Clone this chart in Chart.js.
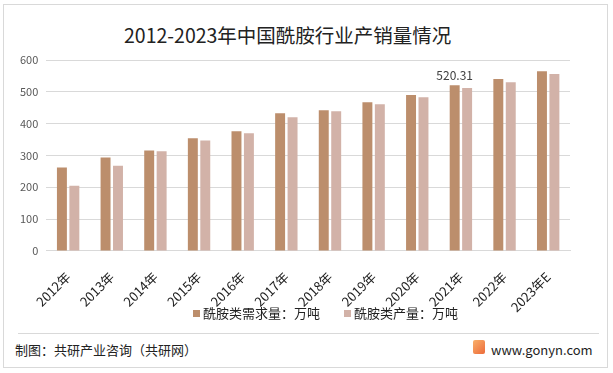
<!DOCTYPE html>
<html>
<head>
<meta charset="utf-8">
<script src="https://cdn.jsdelivr.net/npm/chart.js@4/dist/chart.umd.min.js"></script>
<style>
  body { margin: 0; background: #fff; font-family: "Noto Sans CJK SC", sans-serif; }
  #wrap { position: relative; width: 613px; height: 373px; overflow: hidden; }
  #frame { position: absolute; left: 3px; top: 4px; width: 605px; height: 364px; border: 1px solid #d9d9d9; box-sizing: border-box; }
  #title { position: absolute; left: 124px; top: 20px; font-size: 19.5px; color: #222; white-space: nowrap; }
  #chartBox { position: absolute; left: 0; top: 0; width: 613px; height: 325px; }
  #legend { position: absolute; left: 0; top: 303px; width: 613px; height: 18px; font-size: 13px; color: #222; }
  #legend span { position: absolute; top: 0; white-space: nowrap; }
  #legend i { position: absolute; top: 7px; width: 7px; height: 7px; }
  #sep { position: absolute; left: 18px; top: 333px; width: 581px; border-top: 1px solid #d9d9d9; }
  #source { position: absolute; left: 15px; top: 340px; font-size: 13px; color: #222; }
  #site { position: absolute; left: 491px; top: 340px; font-size: 13px; color: #222; }
  #logo { position: absolute; left: 473px; top: 340px; width: 12px; height: 14px; background: linear-gradient(135deg, #f9b06a, #ec6a3a); border-radius: 2px; }
</style>
</head>
<body>
<div id="wrap">
  <div id="frame"></div>
  <div id="title">2012-2023年中国酰胺行业产销量情况</div>
  <div id="chartBox"><canvas id="c"></canvas></div>
  <div id="legend"></div>
  <div id="sep"></div>
  <div id="source">制图：共研产业咨询（共研网）</div>
  <div id="logo"></div>
  <div id="site">www.gonyn.com</div>
</div>
<script>
const years = ["2012年", "2013年", "2014年", "2015年", "2016年", "2017年", "2018年", "2019年", "2020年", "2021年", "2022年", "2023年E"];
const demand = [262, 294, 316, 354, 376, 433, 442, 467, 490, 520.31, 540, 565];
const production = [205, 268, 313, 347, 370, 420, 439, 461, 483, 512, 530, 556];
const seriesNames = ["酰胺类需求量：万吨", "酰胺类产量：万吨"];
const colors = ["#BC8E6C", "#D2B2A8"];
const labelIndex = 9; // only 2021 demand is labelled

// html legend, laid out like the original
const legendX = [193, 344];
const legendEl = document.getElementById("legend");
seriesNames.forEach((name, i) => {
  const box = document.createElement("i");
  box.style.left = legendX[i] + "px";
  box.style.background = colors[i];
  const txt = document.createElement("span");
  txt.style.left = (legendX[i] + 10) + "px";
  txt.textContent = name;
  legendEl.appendChild(box);
  legendEl.appendChild(txt);
});

const pointLabel = {
  id: "pointLabel",
  afterDatasetsDraw(chart) {
    const bar = chart.getDatasetMeta(0).data[labelIndex];
    const ctx = chart.ctx;
    ctx.save();
    ctx.font = "12px 'Noto Sans CJK SC'";
    ctx.fillStyle = "#404040";
    ctx.textAlign = "center";
    ctx.textBaseline = "bottom";
    ctx.fillText(String(demand[labelIndex]), bar.x, bar.y - 4);
    ctx.restore();
  }
};

new Chart(document.getElementById("c"), {
  type: "bar",
  data: {
    labels: years,
    datasets: [
      { label: seriesNames[0], data: demand, backgroundColor: colors[0] },
      { label: seriesNames[1], data: production, backgroundColor: colors[1] }
    ]
  },
  options: {
    responsive: true,
    maintainAspectRatio: false,
    animation: false,
    categoryPercentage: 0.57,
    barPercentage: 0.8,
    layout: { padding: { left: 12, right: 43, top: 60, bottom: 0 } },
    plugins: {
      legend: { display: false },
      tooltip: { enabled: false }
    },
    scales: {
      x: {
        grid: { display: false },
        border: { color: "#d9d9d9" },
        ticks: {
          color: "#222", maxRotation: 45, minRotation: 45, padding: 10,
          font: { size: 13, family: "Noto Sans CJK SC" }
        }
      },
      y: {
        min: 0, max: 600,
        ticks: { stepSize: 100, color: "#595959", padding: 8, font: { size: 11, family: "Noto Sans CJK SC" } },
        grid: { color: "#d9d9d9", drawTicks: false },
        border: { display: false }
      }
    }
  },
  plugins: [pointLabel]
});
</script>
</body>
</html>
